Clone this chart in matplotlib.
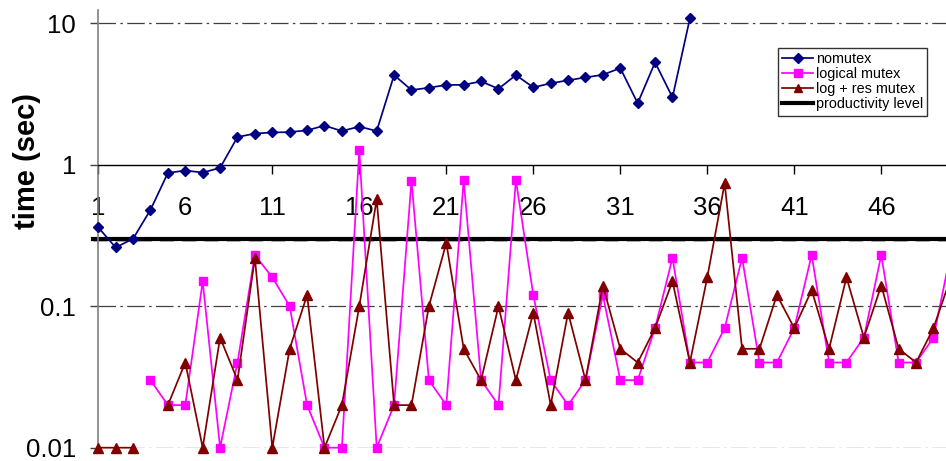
import numpy as np
import matplotlib.pyplot as plt

plt.rcParams['font.family'] = ['Liberation Sans', 'DejaVu Sans']

# run number (x) and measured times (sec); None = no measurement
runs = list(range(1, 51))

nomutex = [0.36, 0.26, 0.30, 0.48, 0.875, 0.91, 0.88, 0.95, 1.57, 1.66,
           1.69, 1.70, 1.75, 1.89, 1.73, 1.86, 1.73, 4.3, 3.37, 3.50,
           3.66, 3.67, 3.88, 3.44, 4.3, 3.52, 3.76, 3.95, 4.14, 4.32,
           4.82, 2.72, 5.29, 2.99, 10.8]

logical_mutex = [None, None, None, 0.03, 0.02, 0.02, 0.15, 0.01, 0.04, 0.23,
                 0.16, 0.10, 0.02, 0.01, 0.01, 1.27, 0.01, 0.02, 0.77, 0.03,
                 0.02, 0.78, 0.03, 0.02, 0.78, 0.12, 0.03, 0.02, 0.03, 0.12,
                 0.03, 0.03, 0.07, 0.22, 0.04, 0.04, 0.07, 0.22, 0.04, 0.04,
                 0.07, 0.23, 0.04, 0.04, 0.06, 0.23, 0.04, 0.04, 0.06, 0.24]

log_res_mutex = [0.01, 0.01, 0.01, None, 0.02, 0.04, 0.01, 0.06, 0.03, 0.22,
                 0.01, 0.05, 0.12, 0.01, 0.02, 0.10, 0.57, 0.02, 0.02, 0.10,
                 0.28, 0.05, 0.03, 0.10, 0.03, 0.09, 0.02, 0.09, 0.03, 0.14,
                 0.05, 0.04, 0.07, 0.15, 0.04, 0.16, 0.74, 0.05, 0.05, 0.12,
                 0.07, 0.13, 0.05, 0.16, 0.06, 0.14, 0.05, 0.04, 0.07, 0.16]

productivity_level = 0.3
x_ticks = [1, 6, 11, 16, 21, 26, 31, 36, 41, 46]
y_ticks = [0.01, 0.1, 1, 10]
y_tick_labels = ['0.01', '0.1', '1', '10']


def to_arr(vals):
    return np.array([np.nan if v is None else v for v in vals], dtype=float)


W, H = 946, 461
fig = plt.figure(figsize=(W / 100, H / 100), dpi=100)
x0 = 98.3 / W
ax = fig.add_axes([x0, (H - 447.7) / H, 1 - x0, (447.7 - 10) / H])

ax.set_yscale('log')
ax.set_ylim(0.01, 12.4)
ax.set_xlim(1, 49.72)

# dash-dot gridlines
for g in [0.01, 0.1, 10]:
    ax.axhline(g, color='#404040', lw=0.9, dashes=(14, 3.5, 2, 3.5), zorder=1)

# productivity level (with faint grey shadow underneath)
ax.plot([0.7, 52], [0.292, 0.292], color='#b0b0b0', lw=2, dashes=(5, 3),
        clip_on=False, zorder=2)
prod_line, = ax.plot([0.7, 52], [productivity_level] * 2, color='black', lw=3,
                     clip_on=False, zorder=2, label='productivity level')

l1, = ax.plot(runs[:len(nomutex)], nomutex, color='#000080', lw=1.25,
              marker='D', ms=5.5, clip_on=False, zorder=4, label='nomutex')
l2, = ax.plot(runs, to_arr(logical_mutex), color='#ff00ff', lw=1.25,
              marker='s', ms=6, clip_on=False, zorder=5, label='logical mutex')
l3, = ax.plot(runs, to_arr(log_res_mutex), color='#800000', lw=1.25,
              marker='^', ms=7, clip_on=False, zorder=6, label='log + res mutex')

# axes styling: x axis crosses at 1
ax.spines['top'].set_visible(False)
ax.spines['right'].set_visible(False)
ax.spines['bottom'].set_position(('data', 1))
ax.spines['bottom'].set_color('black')
ax.spines['bottom'].set_linewidth(1)
ax.spines['bottom'].set_zorder(3)
ax.spines['left'].set_color('#808080')
ax.spines['left'].set_linewidth(1.2)

ax.set_xticks(x_ticks)
ax.set_xticklabels([str(t) for t in x_ticks])
ax.tick_params(axis='x', direction='out', length=6.5, width=1, color='black',
               labelsize=18.5, pad=16)
ax.set_yticks(y_ticks)
ax.set_yticklabels(y_tick_labels)
ax.minorticks_off()
ax.tick_params(axis='y', direction='out', length=6, width=1, color='#404040',
               labelsize=18.5, pad=10)

fig.text(27 / W, 1 - 161 / H, 'time (sec)', rotation=90, fontsize=21,
         fontweight='bold', ha='center', va='center')

leg = fig.legend(handles=[l1, l2, l3, prod_line], loc='upper left',
                 bbox_to_anchor=(778 / W, 1 - 47.7 / H), fontsize=10.4,
                 frameon=True, fancybox=False, numpoints=1, handlelength=2.1,
                 handletextpad=0.2, labelspacing=0.08, borderpad=0.3,
                 borderaxespad=0, markerscale=0.9)
leg.get_frame().set_edgecolor('black')
leg.get_frame().set_linewidth(1)

fig.savefig('out.png', dpi=100)
